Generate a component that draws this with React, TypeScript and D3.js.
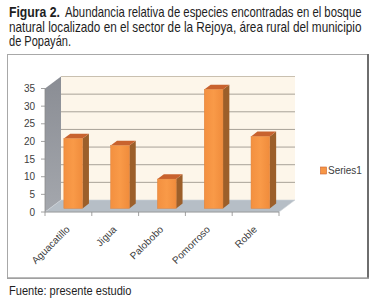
import React from "react";
import * as d3 from "d3";

const categories = ["Aguacatillo", "Jigua", "Palobobo", "Pomorroso", "Roble"];
const series1 = [19.8, 17.8, 8.3, 33.7, 20.4];
const yTicks = [0, 5, 10, 15, 20, 25, 30, 35];
const seriesName = "Series1";

const W = 380;
const H = 303;
const DX = 16;
const DY = -12;
const SX = 0.8;

function Narrow(props: { x: number; y: number; len: number; bold?: boolean; size: number; children: string }) {
  return (
    <g transform={`scale(${SX},1)`}>
      <text
        x={props.x / SX}
        y={props.y}
        fontFamily="'Liberation Sans', Arial, sans-serif"
        fontSize={props.size}
        fontWeight={props.bold ? "bold" : "normal"}
        fill="#1e1e1e"
        textLength={props.len / SX}
        lengthAdjust="spacingAndGlyphs"
      >
        {props.children}
      </text>
    </g>
  );
}

export default function App() {
  const x = d3.scaleBand<string>().domain(categories).range([45, 279]);
  const y = d3.scaleLinear().domain([0, 35]).range([212, 88.5]);
  const bw = 18.7;
  const bf = 0.3;
  const bb = 0.7;
  const sans = "'Liberation Sans', Arial, sans-serif";

  const x0 = 45, x1 = 279;
  const yb = y(0), yt = y(35);

  return (
    <svg
      width={W}
      height={H}
      style={{ position: "absolute", left: 0, top: 0, background: "#fff" }}
    >
      <defs>
        <linearGradient id="lw" x1="0" y1="0" x2="0" y2="1">
          <stop offset="0" stopColor="#8a8d94" />
          <stop offset="1" stopColor="#a4a7ad" />
        </linearGradient>
        <linearGradient id="bf" x1="0" y1="0" x2="1" y2="0">
          <stop offset="0" stopColor="#f39040" />
          <stop offset="0.5" stopColor="#f99a48" />
          <stop offset="1" stopColor="#f08c3c" />
        </linearGradient>
      </defs>

      {/* Title */}
      <Narrow x={9} y={17.5} len={51} bold size={14}>Figura 2.</Narrow>
      <Narrow x={65} y={17.5} len={296.5} size={14}>Abundancia relativa  de especies encontradas en el bosque</Narrow>
      <Narrow x={9} y={31.8} len={352.5} size={14}>natural localizado en el sector de la Rejoya,  área rural del municipio</Narrow>
      <Narrow x={9} y={46} len={62} size={14}>de Popayán.</Narrow>

      {/* Chart frame */}
      <rect x={7.5} y={54.5} width={360} height={223.5} fill="#fff" stroke="#a8a8a8" strokeWidth={1} />
      <line x1={368} y1={54} x2={368} y2={279} stroke="#6e6e6e" strokeWidth={2} />
      <line x1={7} y1={278.3} x2={369} y2={278.3} stroke="#a0a0a0" strokeWidth={1.5} />

      {/* Back wall */}
      <rect x={x0 + DX} y={yt + DY} width={x1 - x0} height={yb - yt} fill="#fdf6ea" />
      <line x1={x0 + DX} y1={yt + DY} x2={x1 + DX} y2={yt + DY} stroke="#c9c0b0" strokeWidth={1.2} />
      {yTicks.filter((t) => t > 0 && t < 35).map((t) => (
        <line key={t} x1={x0 + DX} x2={x1 + DX} y1={y(t) + DY} y2={y(t) + DY} stroke="#a8a298" strokeWidth={1} />
      ))}

      {/* Left wall */}
      <polygon
        points={`${x0},${yb} ${x0},${yt} ${x0 + DX},${yt + DY} ${x0 + DX},${yb + DY}`}
        fill="url(#lw)"
      />
      {/* Floor */}
      <polygon
        points={`${x0},${yb} ${x1},${yb} ${x1 + DX},${yb + DY} ${x0 + DX},${yb + DY}`}
        fill="#b6bec6"
        stroke="#cfd4d9"
        strokeWidth={0.6}
      />

      {/* Bars */}
      {categories.map((c, i) => {
        const v = series1[i];
        const cx = (x(c) as number) + x.bandwidth() / 2;
        const fx = cx + DX * bf - bw / 2;
        const fyb = yb + DY * bf;
        const fyt = y(v) + DY * bf;
        const ddx = DX * (bb - bf);
        const ddy = DY * (bb - bf);
        return (
          <g key={c}>
            <polygon
              points={`${fx + bw},${fyb} ${fx + bw},${fyt} ${fx + bw + ddx},${fyt + ddy} ${fx + bw + ddx},${fyb + ddy}`}
              fill="#9c5f2a"
            />
            <polygon
              points={`${fx},${fyt} ${fx + bw},${fyt} ${fx + bw + ddx},${fyt + ddy} ${fx + ddx},${fyt + ddy}`}
              fill="#c8622e"
            />
            <rect x={fx} y={fyt} width={bw} height={fyb - fyt} fill="url(#bf)" stroke="#e0823a" strokeWidth={0.5} />
          </g>
        );
      })}

      {/* Y axis */}
      <line x1={x0} y1={yt} x2={x0} y2={yb} stroke="#8a8a8a" strokeWidth={0.8} />
      {yTicks.map((t) => (
        <g key={t}>
          <line x1={x0 - 4} x2={x0} y1={y(t)} y2={y(t)} stroke="#8a8a8a" strokeWidth={0.8} />
          <text x={35} y={y(t) + 3.5} textAnchor="end" fontFamily={sans} fontSize={10} fill="#404040">
            {t}
          </text>
        </g>
      ))}

      {/* X axis */}
      <line x1={x0} y1={yb} x2={x1} y2={yb} stroke="#8a8a8a" strokeWidth={0.8} />
      {categories.map((c) => (
        <line key={c} x1={x(c) as number} x2={x(c) as number} y1={yb} y2={yb + 4} stroke="#8a8a8a" strokeWidth={0.8} />
      ))}
      <line x1={x1} x2={x1} y1={yb} y2={yb + 4} stroke="#8a8a8a" strokeWidth={0.8} />
      {categories.map((c) => {
        const cx = (x(c) as number) + x.bandwidth() / 2 + 2;
        const cy = yb + 18;
        return (
          <text
            key={c}
            x={cx}
            y={cy}
            transform={`rotate(-45 ${cx} ${cy})`}
            textAnchor="end"
            fontFamily={sans}
            fontSize={10}
            fill="#404040"
          >
            {c}
          </text>
        );
      })}

      {/* Legend */}
      <rect x={320.5} y={167} width={6} height={7} fill="#f79646" stroke="#c8622e" strokeWidth={0.6} />
      <text x={328} y={174} fontFamily={sans} fontSize={10} fill="#404040">
        {seriesName}
      </text>

      {/* Source */}
      <Narrow x={9} y={295} len={122.5} size={13}>Fuente: presente estudio</Narrow>
    </svg>
  );
}
